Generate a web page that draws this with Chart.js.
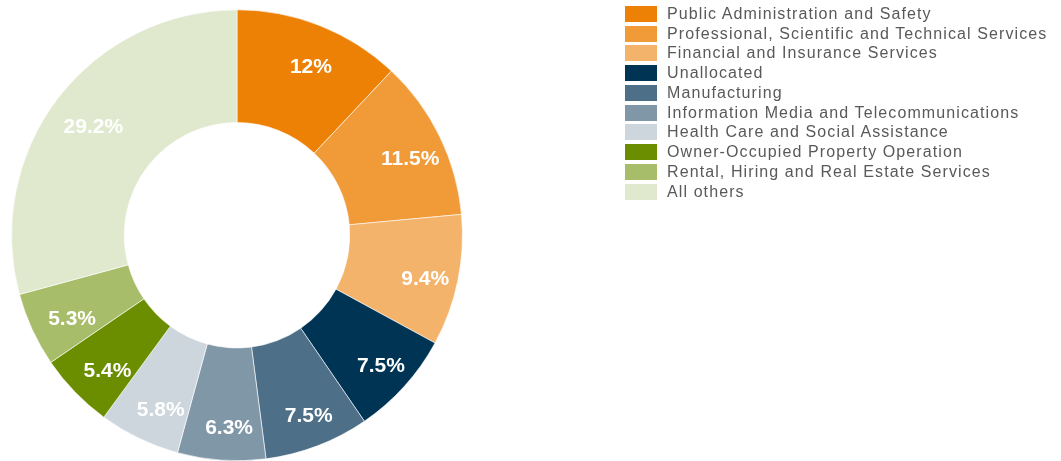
<!DOCTYPE html>
<html>
<head>
<meta charset="utf-8">
<script src="https://cdn.jsdelivr.net/npm/chart.js@4.4.0/dist/chart.umd.min.js"></script>
<style>
  html, body { margin: 0; padding: 0; background: #fff; }
  #wrap { position: relative; width: 1061px; height: 461px; overflow: hidden; }
  #chart-box { position: absolute; left: 0; top: 0; width: 1061px; height: 461px; }
  #legend { position: absolute; left: 625px; top: 4px; font-family: "Liberation Sans", Arial, sans-serif; font-size: 16px; letter-spacing: 1.1px; color: #595959; }
  #legend .row { height: 19.75px; display: flex; align-items: center; white-space: nowrap; }
  #legend .sw { width: 32px; height: 16px; margin-right: 10px; flex: none; }
</style>
</head>
<body>
<div id="wrap">
  <div id="chart-box"><canvas id="donut"></canvas></div>
  <div id="legend"></div>
</div>
<script>
// 산업별 비중 (%)
const categories = [
  "Public Administration and Safety",
  "Professional, Scientific and Technical Services",
  "Financial and Insurance Services",
  "Unallocated",
  "Manufacturing",
  "Information Media and Telecommunications",
  "Health Care and Social Assistance",
  "Owner-Occupied Property Operation",
  "Rental, Hiring and Real Estate Services",
  "All others"
];
const shares = [12, 11.5, 9.4, 7.5, 7.5, 6.3, 5.8, 5.4, 5.3, 29.2];
const colors = [
  "#EC8106", "#F09A38", "#F4B36B", "#003454", "#4D6F87",
  "#8097A8", "#CDD6DD", "#6B8E00", "#A8BD6A", "#E0E9CE"
];

// 조각 위 퍼센트 라벨
const sliceLabels = {
  id: 'sliceLabels',
  afterDatasetsDraw(chart) {
    const ctx = chart.ctx;
    const meta = chart.getDatasetMeta(0);
    ctx.save();
    ctx.font = 'bold 21px "Liberation Sans", Arial, sans-serif';
    ctx.fillStyle = '#fff';
    ctx.textAlign = 'center';
    ctx.textBaseline = 'middle';
    meta.data.forEach((arc, i) => {
      const p = arc.getProps(['x', 'y', 'startAngle', 'endAngle', 'outerRadius'], true);
      const mid = (p.startAngle + p.endAngle) / 2;
      const r = p.outerRadius * 0.83;
      ctx.fillText(shares[i] + '%', p.x + 5 + Math.cos(mid) * r, p.y + 6 + Math.sin(mid) * r);
    });
    ctx.restore();
  }
};

new Chart(document.getElementById('donut'), {
  type: 'doughnut',
  data: {
    labels: categories,
    datasets: [{
      data: shares,
      backgroundColor: colors,
      borderColor: '#ffffff',
      borderWidth: 0.6
    }]
  },
  options: {
    responsive: true,
    maintainAspectRatio: false,
    animation: false,
    cutout: '50%',
    layout: { padding: { left: 11, right: 598, top: 9.5, bottom: 0 } },
    plugins: { legend: { display: false }, tooltip: { enabled: false } }
  },
  plugins: [sliceLabels]
});

// 범례
const legend = document.getElementById('legend');
legend.innerHTML = categories.map((c, i) =>
  `<div class="row"><span class="sw" style="background:${colors[i]}"></span><span>${c}</span></div>`
).join('');
</script>
</body>
</html>
